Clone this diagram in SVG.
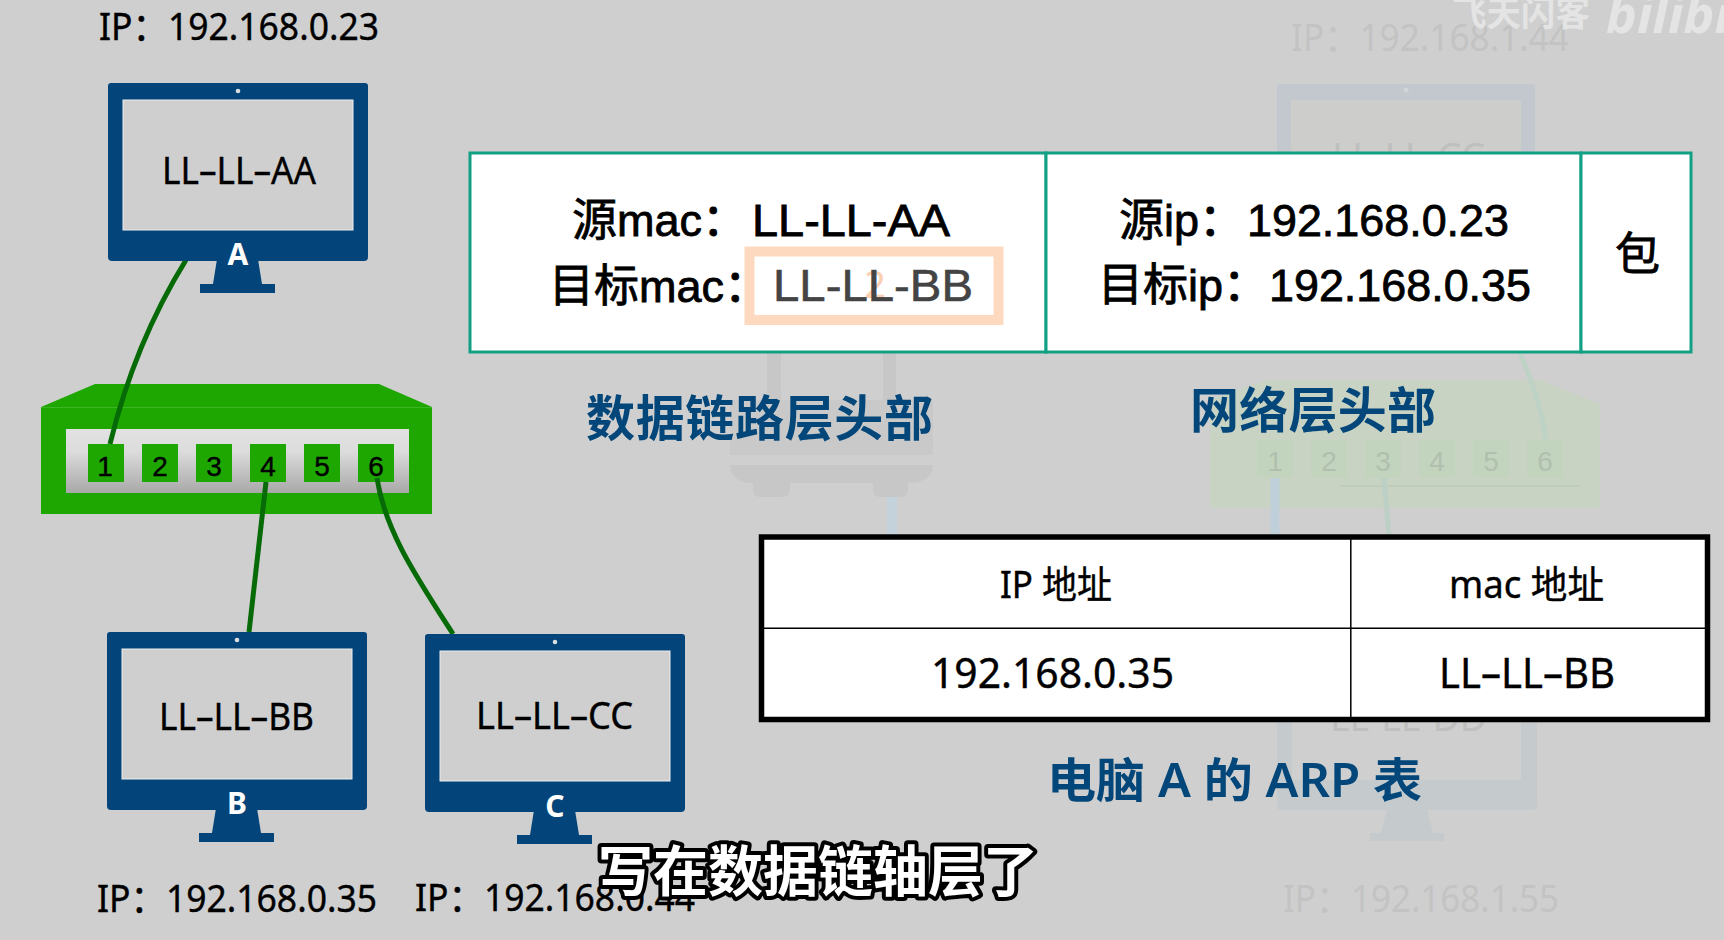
<svg xmlns="http://www.w3.org/2000/svg" width="1724" height="940" viewBox="0 0 1724 940">
<style>
text{font-family:"Noto Sans","Noto Sans CJK SC",sans-serif}
.lab{font-size:38px;fill:#000;stroke:#000;stroke-width:.4}
.mac{font-size:38px;fill:#000;stroke:#000;stroke-width:.4}
.num{font-size:28px;fill:#000;text-anchor:middle;font-family:"Liberation Sans",sans-serif;stroke:#000;stroke-width:.4}
.hd{font-size:45px;fill:#000;font-family:"Liberation Sans","Noto Sans CJK SC",sans-serif;stroke:#000;stroke-width:.8}
.hg{font-size:45px;fill:#444;font-family:"Liberation Sans",sans-serif;stroke:#444;stroke-width:.6}
.cap{font-size:49px;fill:#03477a;font-weight:700;font-family:"Noto Sans CJK SC",sans-serif}
.cap2{font-size:47px;fill:#03477a;font-family:"Noto Sans","Noto Sans CJK SC",sans-serif;font-weight:600}
.tb{font-size:38px;fill:#000;stroke:#000;stroke-width:.4}
.letter{font-size:30px;fill:#fff;text-anchor:middle;font-family:"Noto Sans",sans-serif;font-weight:700}
.navy{fill:#03457a}
.screen{fill:#cfcfcf;stroke:#eee;stroke-width:1}
.cable{fill:none;stroke:#066a06;stroke-width:5}
.ghost{fill:#c3c3c3;font-size:38px}
.gport{fill:#c2d4bd}
.gnum{fill:#b1bfae;font-size:28px;text-anchor:middle;font-family:"Liberation Sans",sans-serif}
.port{fill:#1ea700}
.hcell{fill:#fff;stroke:#12a085;stroke-width:3}
</style>
<defs>
<linearGradient id="pg" x1="0" y1="0" x2="0" y2="1"><stop offset="0" stop-color="#e2e2e2"/><stop offset="0.35" stop-color="#dcdcdc"/><stop offset="1" stop-color="#a9a8a8"/></linearGradient>
<g id="monitor">
<path class="navy" d="M3 0H257a3 3 0 0 1 3 3V174a4 4 0 0 1-4 4H4a4 4 0 0 1-4-4V3a3 3 0 0 1 3-3Z"/>
<path class="navy" d="M110 170H149L154 201H167V210H92V201H105Z"/>
<rect class="screen" x="15" y="17" width="230" height="130"/>
<circle cx="130" cy="8" r="2.3" fill="#d8dde0"/>
</g>
</defs>
<rect width="1724" height="940" fill="#cfcfcf"/>

<g id="background-ghosts">
<rect x="1277" y="84" width="258" height="80" rx="3" fill="#c2c8cd"/>
<rect x="1291" y="100" width="230" height="70" fill="#cdcdcc"/>
<circle cx="1406" cy="90" r="2.500" fill="#d2d5d8"/>
<text x="1332" y="170" font-size="38" fill="#bfbfbf" textLength="153" lengthAdjust="spacingAndGlyphs">LL-LL-CC</text>
<text class="ghost" x="1291" y="51" textLength="278" lengthAdjust="spacingAndGlyphs">IP：192.168.1.44</text>
<path d="M1266 380H1540L1600 404V508H1210V400Z" fill="#c8d3c4"/>
<path d="M1520 352C1533 385 1542 410 1546 440" fill="none" stroke="#bfd2c6" stroke-width="5"/>
<rect x="1340" y="485" width="240" height="2" fill="#bfcdbb"/>
<rect class="gport" x="1257" y="440" width="36" height="38"/><rect class="gport" x="1311" y="440" width="36" height="38"/><rect class="gport" x="1365" y="440" width="36" height="38"/><rect class="gport" x="1419" y="440" width="36" height="38"/><rect class="gport" x="1473" y="440" width="36" height="38"/><rect class="gport" x="1527" y="440" width="36" height="38"/>
<text class="gnum" x="1275" y="471">1</text><text class="gnum" x="1329" y="471">2</text><text class="gnum" x="1383" y="471">3</text><text class="gnum" x="1437" y="471">4</text><text class="gnum" x="1491" y="471">5</text><text class="gnum" x="1545" y="471">6</text>
<path d="M1275 478V535" stroke="#c0d0db" stroke-width="9" fill="none"/>
<path d="M1384 478L1389 535" stroke="#bdd0c5" stroke-width="5" fill="none"/>
<path d="M767 352H781V400H767ZM883 352H896V400H883Z" fill="#c7c7c7"/>
<path d="M730 400H933V455H730Z" fill="#c9c9c9"/>
<path d="M730 465H933C932 476 925 483 908 483V490Q908 497 900 497H881Q873 497 873 490V483H790V490Q790 497 782 497H761Q753 497 753 490V483C738 483 731 476 730 465Z" fill="#c7c7c7"/>
<path d="M892 497V535" stroke="#c4d2dc" stroke-width="10" fill="none"/>
<path d="M1277 700H1537V806a4 4 0 0 1-4 4H1281a4 4 0 0 1-4-4ZM1292 700V780H1521V700Z" fill="#c5cacd" fill-rule="evenodd"/>
<path d="M1387 810H1427L1433 833H1444V841H1370V833H1381Z" fill="#c5cacd"/>
<text x="1330" y="731" font-size="38" fill="#bfbfbf" textLength="157" lengthAdjust="spacingAndGlyphs">LL-LL-DD</text>
<text class="ghost" x="1283" y="912" textLength="276" lengthAdjust="spacingAndGlyphs">IP：192.168.1.55</text>
<text x="1452" y="26" font-size="35" fill="#e4e4e4" font-weight="700" textLength="138" lengthAdjust="spacingAndGlyphs">飞天闪客</text>
<text x="1606" y="33" font-size="52" fill="#e4e4e4" font-weight="700" font-style="italic">bilibili</text>
</g>

<g id="switch">
<path d="M41 407L95 384H379L432 407Z" fill="#1ea700"/>
<rect x="41" y="407" width="391" height="107" fill="#1ea700"/>
<rect x="41" y="407" width="391" height="1" fill="#3cb525"/>
<rect x="66" y="429" width="343" height="64" fill="url(#pg)"/>
<rect class="port" x="88" y="444" width="36" height="38"/><rect class="port" x="142" y="444" width="36" height="38"/><rect class="port" x="196" y="444" width="36" height="38"/><rect class="port" x="250" y="444" width="36" height="38"/><rect class="port" x="304" y="444" width="36" height="38"/><rect class="port" x="358" y="444" width="36" height="38"/>
<text class="num" x="105" y="476">1</text><text class="num" x="160" y="476">2</text><text class="num" x="214" y="476">3</text><text class="num" x="268" y="476">4</text><text class="num" x="322" y="476">5</text><text class="num" x="376" y="476">6</text>
</g>

<g id="connectors">
<path class="cable" d="M186 260C155 310 128 370 110 444"/>
<path class="cable" d="M266 482L249 632"/>
<path class="cable" d="M377 478C385 530 415 575 453 634"/>
</g>

<g id="pc-a">
<use href="#monitor" x="108" y="83"/>
<text class="letter" x="238" y="265">A</text>
<text class="mac" x="162" y="184" textLength="154" lengthAdjust="spacingAndGlyphs">LL–LL–AA</text>
<text class="lab" x="99" y="40" textLength="280" lengthAdjust="spacingAndGlyphs">IP：192.168.0.23</text>
</g>
<g id="pc-b">
<use href="#monitor" x="107" y="632"/>
<text class="letter" x="237" y="814">B</text>
<text class="mac" x="159" y="730" textLength="155" lengthAdjust="spacingAndGlyphs">LL–LL–BB</text>
<text class="lab" x="97" y="912" textLength="280" lengthAdjust="spacingAndGlyphs">IP：192.168.0.35</text>
</g>
<g id="pc-c">
<use href="#monitor" x="425" y="634"/>
<text class="letter" x="555" y="817">C</text>
<text class="mac" x="476" y="729" textLength="157" lengthAdjust="spacingAndGlyphs">LL–LL–CC</text>
<text class="lab" x="415" y="911" textLength="280" lengthAdjust="spacingAndGlyphs">IP：192.168.0.44</text>
</g>

<g id="header-table">
<rect class="hcell" x="470" y="153" width="576" height="199"/>
<rect class="hcell" x="1046" y="153" width="535" height="199"/>
<rect class="hcell" x="1581" y="153" width="110" height="199"/>
<text class="hd" x="572" y="236">源mac：</text>
<text class="hd" x="752" y="236" textLength="198" lengthAdjust="spacingAndGlyphs">LL-LL-AA</text>
<text class="hd" x="549" y="302">目标mac：</text>
<rect x="749.500" y="251.500" width="249" height="68.500" fill="#fff" stroke="#fdd9c0" stroke-width="10"/>
<text x="875" y="298" font-size="38" fill="#fbcfb2" text-anchor="middle" font-family="Liberation Sans,sans-serif">2</text>
<text class="hg" x="773" y="301" textLength="200" lengthAdjust="spacingAndGlyphs">LL-LL-BB</text>
<text class="hd" x="1119" y="236">源ip：</text>
<text class="hd" x="1247" y="236" textLength="262" lengthAdjust="spacingAndGlyphs">192.168.0.23</text>
<text class="hd" x="1098" y="301">目标ip：</text>
<text class="hd" x="1269" y="301" textLength="262" lengthAdjust="spacingAndGlyphs">192.168.0.35</text>
<text class="hd" x="1615" y="270">包</text>
</g>
<g id="caption-link"><text class="cap" x="586" y="436" textLength="347">数据链路层头部</text></g>
<g id="caption-net"><text class="cap" x="1190" y="428" textLength="246">网络层头部</text></g>

<g id="arp-table">
<rect x="761.500" y="537" width="946" height="182.500" fill="#fff" stroke="#000" stroke-width="5.500"/>
<path d="M1350.800 537V719M762 628.300H1707" stroke="#000" stroke-width="1.500" fill="none"/>
<text class="tb" x="1000" y="598" textLength="112" lengthAdjust="spacingAndGlyphs">IP 地址</text>
<text class="tb" x="1449" y="598" textLength="155" lengthAdjust="spacingAndGlyphs">mac 地址</text>
<text class="tb" x="931" y="688" font-size="40" style="font-size:41px" textLength="243" lengthAdjust="spacingAndGlyphs">192.168.0.35</text>
<text class="tb" x="1439" y="688" style="font-size:41px" textLength="176" lengthAdjust="spacingAndGlyphs">LL–LL–BB</text>
</g>
<g id="caption-arp"><text class="cap2" x="1047" y="797" textLength="375" lengthAdjust="spacingAndGlyphs">电脑 A 的 ARP 表</text></g>
<text id="subtitle" x="598" y="891" font-size="55" fill="#fff" stroke="#000" stroke-width="8" paint-order="stroke" stroke-linejoin="round" font-weight="700" font-family="Noto Sans CJK SC,sans-serif">写在数据链轴层了</text>
</svg>
